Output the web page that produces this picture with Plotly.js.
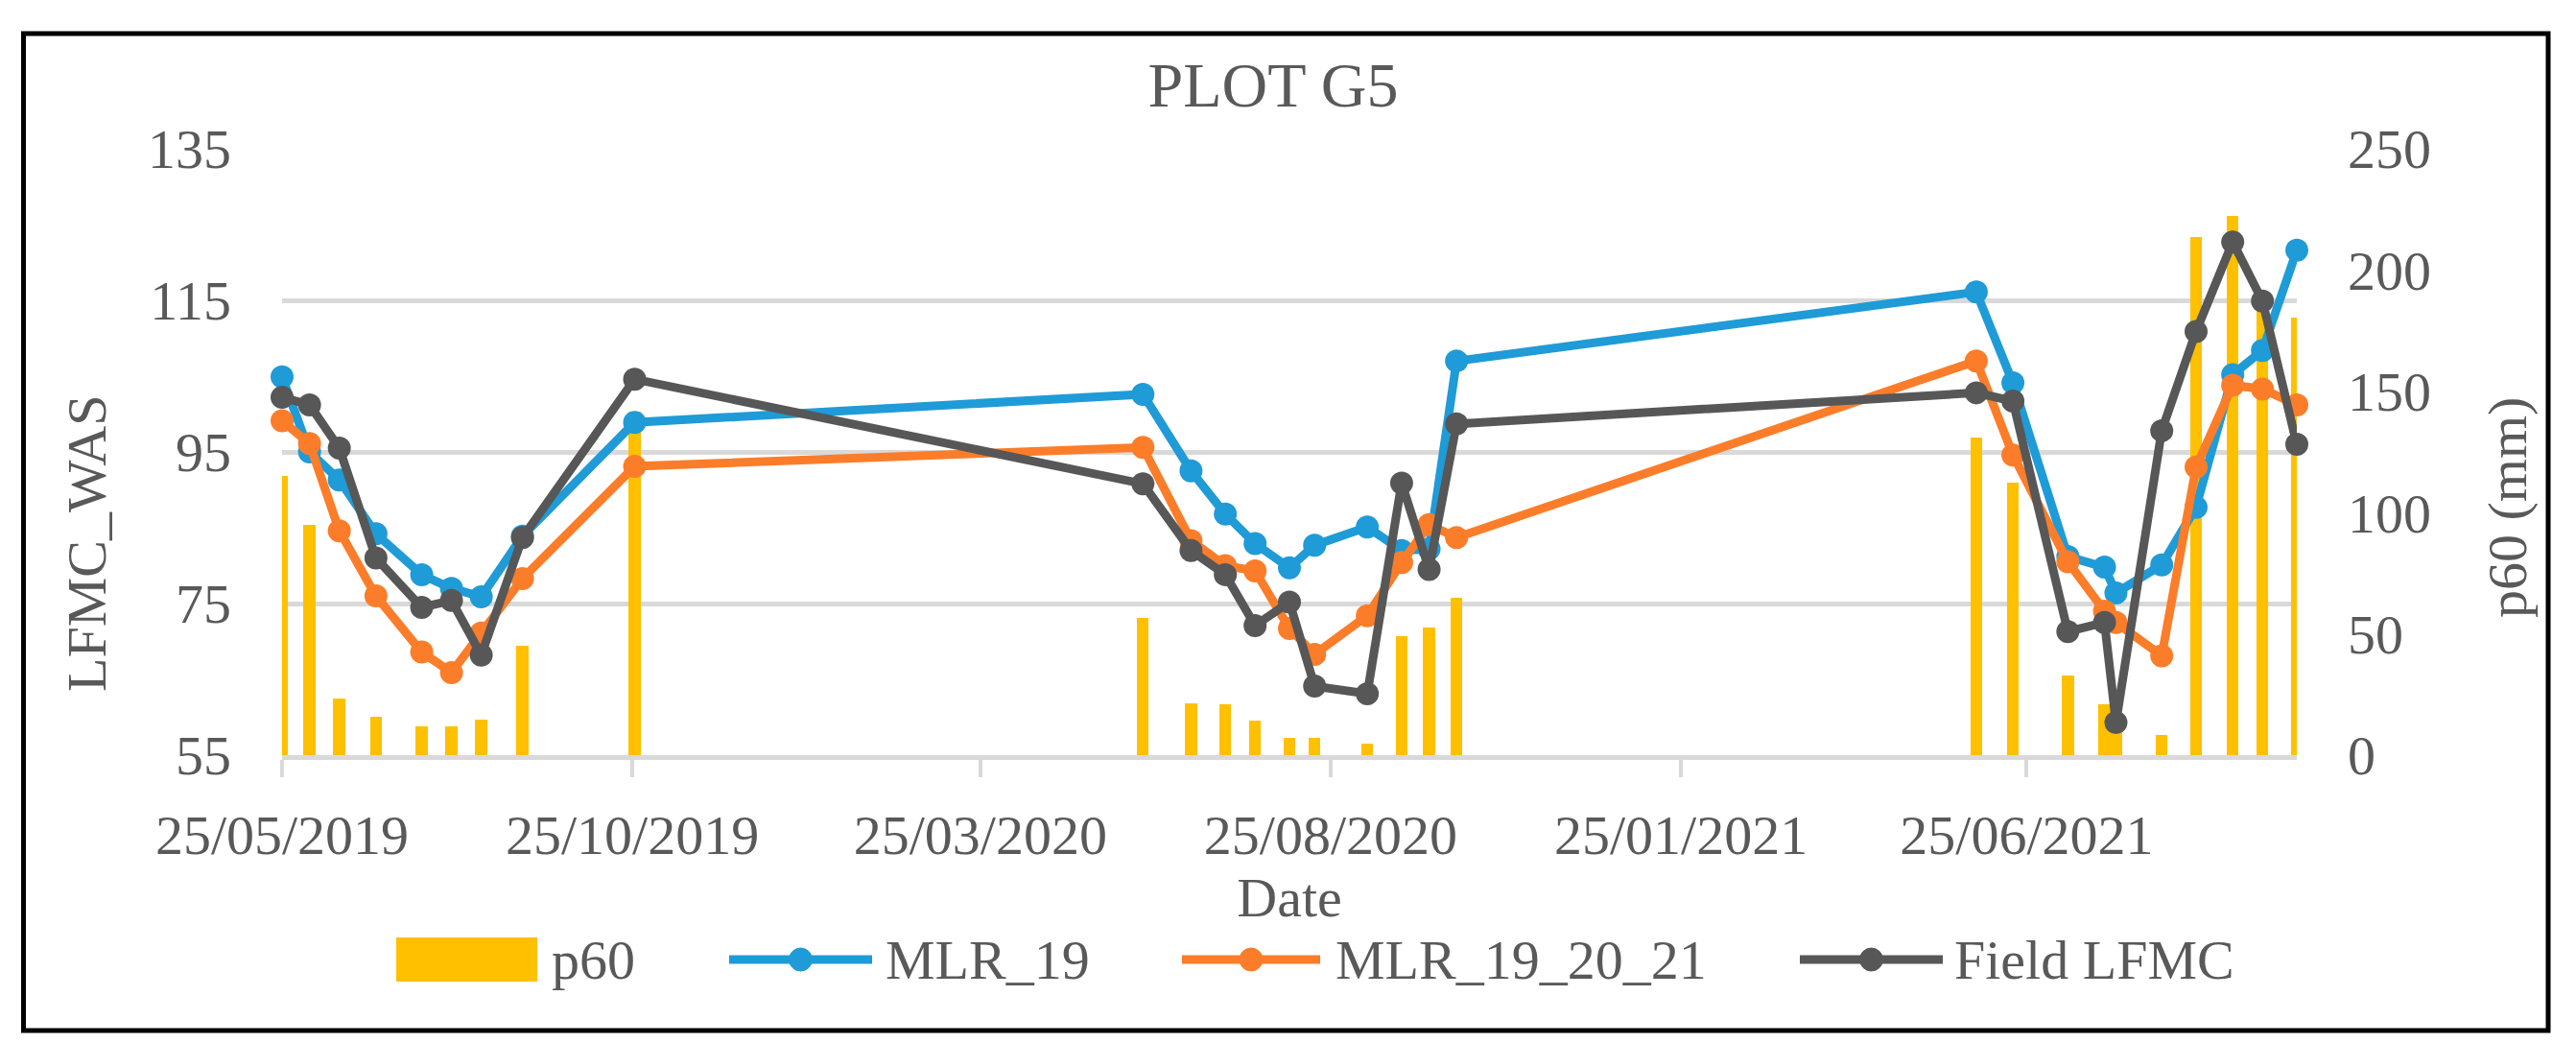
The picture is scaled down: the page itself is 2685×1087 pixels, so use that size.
<!DOCTYPE html>
<html>
<head>
<meta charset="utf-8">
<script src="https://cdn.plot.ly/plotly-3.0.1.min.js"></script>
<style>
  html, body { margin: 0; padding: 0; background: #ffffff; }
  #chart { width: 2685px; height: 1087px; }
</style>
</head>
<body>
<div id="chart"></div>
<script>
// ---------------- DATA ----------------
const dates = [
  '2019-05-25','2019-06-06','2019-06-19','2019-07-05','2019-07-25','2019-08-07','2019-08-20','2019-09-07','2019-10-26',
  '2020-06-04','2020-06-25','2020-07-10','2020-07-23','2020-08-07','2020-08-18','2020-09-10','2020-09-25','2020-10-07','2020-10-19',
  '2021-06-03','2021-06-19','2021-07-13','2021-07-29','2021-08-03','2021-08-23','2021-09-07','2021-09-23','2021-10-06','2021-10-21'
];
const p60 = [
  115, 95, 23.5, 15.7, 12, 12, 14.6, 45.2, 141.5,
  56.6, 21.5, 20.8, 14.4, 7.1, 7.1, 4.7, 48.9, 52.6, 64.8,
  130.8, 112.4, 33, 20.8, 20.8, 8.5, 213.5, 222.5, 187, 180.4
];
const mlr19 = [
  104.9, 95.0, 91.3, 84.2, 78.8, 77.0, 75.9, 83.9, 98.9,
  102.6, 92.5, 86.8, 82.9, 79.7, 82.7, 85.1, 82.0, 82.2, 107.0,
  116.1, 104.1, 81.2, 79.8, 76.4, 80.1, 87.7, 105.2, 108.4, 121.6
];
const mlr192021 = [
  99.1, 96.1, 84.6, 76.0, 68.6, 65.9, 71.1, 78.3, 93.1,
  95.6, 83.3, 80.0, 79.3, 71.7, 68.3, 73.4, 80.4, 85.4, 83.7,
  107.0, 94.6, 80.5, 74.0, 72.5, 68.1, 93.0, 103.8, 103.3, 101.2
];
const fieldLFMC = [
  102.2, 101.2, 95.5, 81.0, 74.5, 75.4, 68.2, 83.7, 104.6,
  90.8, 82.0, 78.8, 72.1, 75.2, 64.1, 63.1, 90.9, 79.5, 98.7,
  102.8, 101.7, 71.3, 72.5, 59.3, 97.8, 110.9, 122.7, 114.9, 96.0
];
const seriesNames = ['p60', 'MLR_19', 'MLR_19_20_21', 'Field LFMC'];
const titleText = 'PLOT G5';
const xTitle = 'Date';
const yLeftTitle = 'LFMC_WAS';
const yRightTitle = 'p60 (mm)';

// ---------------- STYLE ----------------
const FONT = 'Liberation Serif, Times New Roman, serif';
const TXT = '#595959';
const GRID = '#d9d9d9';
const colors = ['#FFC000', '#1F9BD7', '#FB7D2A', '#575757'];
const DAY = 86400000;

// plot area in pixels (for placing decorations in paper coords)
const PL = 294, PR = 2394, PT = 155, PB = 787;
const fx = px => (px - PL) / (PR - PL);
const fy = py => (PB - py) / (PB - PT);

const traces = [
  {
    type: 'bar', name: seriesNames[0], x: dates, y: p60,
    xaxis: 'x', yaxis: 'y',
    width: 5.2 * DAY,
    marker: { color: colors[0], line: { width: 0 } },
    showlegend: false
  }
];
[mlr19, mlr192021, fieldLFMC].forEach((arr, i) => {
  traces.push({
    type: 'scatter', mode: 'lines+markers', name: seriesNames[i + 1],
    x: dates, y: arr, xaxis: 'x', yaxis: 'y2',
    line: { color: colors[i + 1], width: 9 },
    marker: { color: colors[i + 1], size: 24 },
    cliponaxis: false,
    showlegend: false
  });
});

// custom legend (decoration)
const legendY = 1000;
const legendSpec = [
  { kind: 'bar',  x0: 413,  x1: 560,  tx: 573 },
  { kind: 'line', x0: 760,  x1: 909,  tx: 921 },
  { kind: 'line', x0: 1232, x1: 1376, tx: 1390 },
  { kind: 'line', x0: 1876, x1: 2025, tx: 2035 }
];

const shapes = [
  { type: 'rect', xref: 'paper', yref: 'paper',
    x0: fx(24.5), x1: fx(2656), y0: fy(1074), y1: fy(35),
    line: { color: '#000000', width: 5 }, fillcolor: 'rgba(0,0,0,0)', layer: 'above' }
];
const annotations = [
  { xref: 'paper', yref: 'paper', x: fx(90), y: fy(567), text: yLeftTitle, textangle: -90,
    showarrow: false, xanchor: 'center', yanchor: 'middle',
    font: { family: FONT, size: 58, color: TXT } },
  { xref: 'paper', yref: 'paper', x: fx(2613), y: fy(529), text: yRightTitle, textangle: -90,
    showarrow: false, xanchor: 'center', yanchor: 'middle',
    font: { family: FONT, size: 58, color: TXT } }
];
legendSpec.forEach((s, i) => {
  if (s.kind === 'bar') {
    shapes.push({ type: 'rect', xref: 'paper', yref: 'paper',
      x0: fx(s.x0), x1: fx(s.x1), y0: fy(legendY + 23), y1: fy(legendY - 23),
      line: { width: 0 }, fillcolor: colors[i], layer: 'above' });
  } else {
    shapes.push({ type: 'line', xref: 'paper', yref: 'paper',
      x0: fx(s.x0), x1: fx(s.x1), y0: fy(legendY), y1: fy(legendY),
      line: { color: colors[i], width: 9 }, layer: 'above' });
    const cx = (s.x0 + s.x1) / 2;
    shapes.push({ type: 'circle', xref: 'paper', yref: 'paper',
      x0: fx(cx - 12), x1: fx(cx + 12), y0: fy(legendY + 12), y1: fy(legendY - 12),
      line: { color: colors[i], width: 1 }, fillcolor: colors[i], layer: 'above' });
  }
  annotations.push({ xref: 'paper', yref: 'paper', x: fx(s.tx), y: fy(legendY),
    text: seriesNames[i], showarrow: false, xanchor: 'left', yanchor: 'middle',
    font: { family: FONT, size: 58, color: TXT } });
});

const layout = {
  width: 2685, height: 1087,
  margin: { l: PL, r: 2685 - PR, t: PT, b: 1087 - PB, pad: 0 },
  paper_bgcolor: '#ffffff', plot_bgcolor: '#ffffff',
  showlegend: false,
  bargap: 0,
  title: { text: titleText, x: 1327 / 2685, xref: 'container', xanchor: 'center',
           y: 1 - 88 / 1087, yref: 'container', yanchor: 'middle',
           font: { family: FONT, size: 66, color: TXT } },
  font: { family: FONT, color: TXT },
  xaxis: {
    type: 'date', range: ['2019-05-25', '2021-10-21'],
    tick0: '2019-05-25', dtick: 'M5', tickformat: '%d/%m/%Y',
    ticks: 'outside', ticklen: 18, tickwidth: 4, tickcolor: GRID,
    showline: true, linecolor: GRID, linewidth: 5,
    showgrid: false, zeroline: false,
    ticklabelstandoff: 10,
    tickfont: { family: FONT, size: 58, color: TXT },
    title: { text: xTitle, standoff: 8, font: { family: FONT, size: 58, color: TXT } }
  },
  yaxis: {
    side: 'right', range: [0, 250], tick0: 0, dtick: 50,
    showgrid: false, zeroline: false, showline: false, ticks: '',
    ticklabelstandoff: 52,
    tickfont: { family: FONT, size: 58, color: TXT }
  },
  yaxis2: {
    overlaying: 'y', side: 'left', range: [55, 135], tick0: 55, dtick: 20,
    showgrid: true, gridcolor: GRID, gridwidth: 5,
    zeroline: false, showline: false, ticks: '',
    ticklabelstandoff: 52,
    tickfont: { family: FONT, size: 58, color: TXT }
  },
  shapes: shapes,
  annotations: annotations
};

Plotly.newPlot('chart', traces, layout, { displayModeBar: false, staticPlot: true });
</script>
</body>
</html>
